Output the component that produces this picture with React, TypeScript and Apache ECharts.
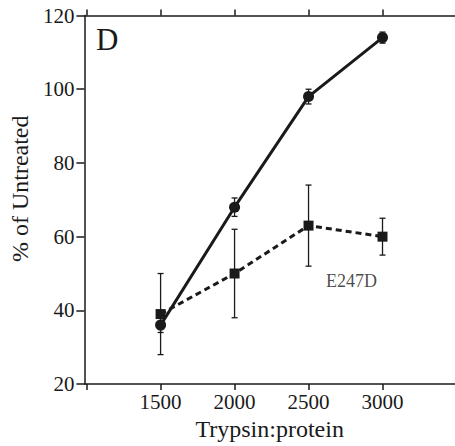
import React, { useEffect, useRef } from "react";
import * as echarts from "echarts";

const ratios = [1500, 2000, 2500, 3000];
const wildType = [36, 68, 98, 114];
const wildTypeErr = [2, 2.5, 2, 1.5];
const e247d = [39, 50, 63, 60];
const e247dErr = [11, 12, 11, 5];
const xTicks = [1000, 1500, 2000, 2500, 3000];
const xLabels = [1500, 2000, 2500, 3000];
const mutantLabel = "E247D";
const mutantLabelAt = [2790, 48];
const panelLabel = "D";

const INK = "#1a1a1a";
const FONT = "Liberation Serif";

function errData(vals: number[], errs: number[]) {
  return ratios.map((r, i) => [r, vals[i] - errs[i], vals[i] + errs[i]]);
}

function errRender(params: any, api: any) {
  const x = api.value(0);
  const lo = api.coord([x, api.value(1)]);
  const hi = api.coord([x, api.value(2)]);
  const cap = 3;
  const style = { stroke: INK, lineWidth: 1.3 };
  return {
    type: "group",
    children: [
      { type: "line", shape: { x1: lo[0], y1: lo[1], x2: hi[0], y2: hi[1] }, style },
      { type: "line", shape: { x1: lo[0] - cap, y1: lo[1], x2: lo[0] + cap, y2: lo[1] }, style },
      { type: "line", shape: { x1: hi[0] - cap, y1: hi[1], x2: hi[0] + cap, y2: hi[1] }, style },
    ],
  };
}

export default function App() {
  const ref = useRef<HTMLDivElement>(null);
  useEffect(() => {
    const chart = echarts.init(ref.current!, null, { renderer: "svg" });
    const axisLine = { show: true, lineStyle: { color: INK, width: 1.5 } };
    const plain = (v: number) => String(v);
    chart.setOption({
      animation: false,
      backgroundColor: "#fff",
      textStyle: { fontFamily: FONT },
      grid: { left: 84, right: 0, top: 15.5, bottom: 60.3 },
      xAxis: [
        {
          type: "value",
          position: "bottom",
          min: 985,
          max: 3490,
          axisLine,
          axisTick: { show: true, length: 6, customValues: xTicks, lineStyle: { color: INK, width: 1.5 } },
          axisLabel: { customValues: xLabels, formatter: plain, color: INK, fontFamily: FONT, fontSize: 21, margin: 7 },
          splitLine: { show: false },
          name: "Trypsin:protein",
          nameLocation: "middle",
          nameGap: 30,
          nameTextStyle: { color: INK, fontFamily: FONT, fontSize: 24, verticalAlign: "top" },
        },
        {
          type: "value",
          position: "top",
          min: 985,
          max: 3490,
          axisLine,
          axisTick: { show: true, length: 6, customValues: xTicks, lineStyle: { color: INK, width: 1.5 } },
          axisLabel: { show: false },
          splitLine: { show: false },
        },
      ],
      yAxis: {
        type: "value",
        min: 20,
        max: 120,
        interval: 20,
        axisLine,
        axisTick: { show: true, length: 8, lineStyle: { color: INK, width: 1.5 } },
        axisLabel: { formatter: plain, color: INK, fontFamily: FONT, fontSize: 21, margin: 10 },
        splitLine: { show: false },
        name: "% of Untreated",
        nameLocation: "middle",
        nameGap: 48,
        nameTextStyle: { color: INK, fontFamily: FONT, fontSize: 24, padding: [0, 0, 0, 22] },
      },
      series: [
        {
          type: "custom",
          renderItem: errRender,
          data: errData(e247d, e247dErr),
          z: 1,
        },
        {
          type: "custom",
          renderItem: errRender,
          data: errData(wildType, wildTypeErr),
          z: 1,
        },
        {
          type: "line",
          data: ratios.map((r, i) => [r, e247d[i]]),
          symbol: "rect",
          symbolSize: 10,
          lineStyle: { color: INK, width: 3, type: [6, 4] },
          itemStyle: { color: INK },
          z: 2,
        },
        {
          type: "line",
          data: ratios.map((r, i) => [r, wildType[i]]),
          symbol: "circle",
          symbolSize: 11,
          lineStyle: { color: INK, width: 3 },
          itemStyle: { color: INK },
          z: 3,
        },
        {
          type: "scatter",
          data: [mutantLabelAt],
          symbolSize: 1,
          itemStyle: { color: "rgba(0,0,0,0)" },
          label: {
            show: true,
            position: "inside",
            formatter: mutantLabel,
            color: INK,
            fontFamily: FONT,
            fontSize: 18,
          },
          z: 4,
        },
      ],
      graphic: [
        {
          type: "text",
          left: 96,
          top: 24,
          style: { text: panelLabel, fill: INK, font: `31px "${FONT}"` },
        },
      ],
    });
    return () => chart.dispose();
  }, []);
  return (
    <div
      ref={ref}
      style={{ position: "fixed", left: 0, top: 0, width: 455, height: 446 }}
    />
  );
}
